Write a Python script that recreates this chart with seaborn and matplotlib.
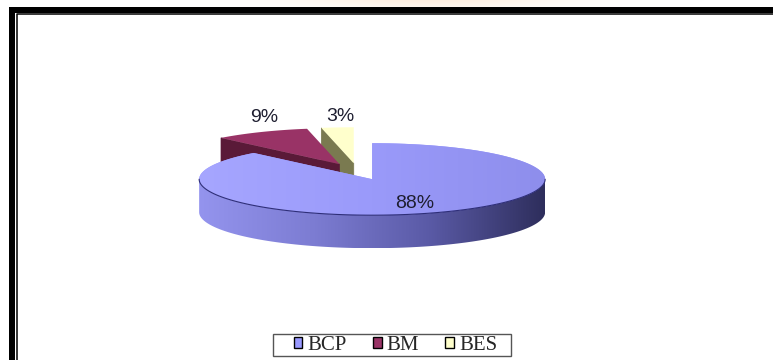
import numpy as np
import matplotlib
matplotlib.use("Agg")
import matplotlib.pyplot as plt
from matplotlib.patches import Polygon, Rectangle, Patch
from matplotlib.colors import LinearSegmentedColormap
import seaborn as sns

# ---- data -------------------------------------------------------------
categories = ["BCP", "BM", "BES"]
shares = [88, 9, 3]
labels = ["88%", "9%", "3%"]
top_colors = ["#9999FF", "#993366", "#FFFFCC"]
face_colors = ["#5c5cb0", "#5a1a38", "#7a7a50"]

sns.set_theme(style="white")
plt.rcParams["font.family"] = ["Liberation Sans", "DejaVu Sans"]

W, H = 773, 360
fig = plt.figure(figsize=(W / 100, H / 100), dpi=100)
fig.patch.set_facecolor("white")
ax = fig.add_axes([0, 0, 1, 1])
ax.set_xlim(0, W)
ax.set_ylim(H, 0)
ax.axis("off")

# ---- 3-D pie geometry (pixel units, y grows downward) ------------------
CX, CY = 357.5, 171.5      # centre of the un-exploded pie
RX, RY = 173.0, 36.0       # radii of the tilted top ellipse
DEPTH = 33.0               # thickness of the disc
EXPLODE = 0.23             # fraction of radius each slice is pulled out


def rim(cx, cy, t):
    """Point on the top ellipse; t in degrees clockwise from 12 o'clock."""
    r = np.radians(t)
    return cx + RX * np.sin(r), cy - RY * np.cos(r)


def arc(cx, cy, t1, t2, n=120):
    ts = np.linspace(t1, t2, n)
    xs, ys = rim(cx, cy, ts)
    return np.column_stack([xs, ys])


fracs = np.array(shares, dtype=float) / sum(shares)
bounds = np.concatenate([[0.0], np.cumsum(fracs) * 360.0])

slices = []
for i in range(len(shares)):
    t1, t2 = bounds[i], bounds[i + 1]
    mid = np.radians((t1 + t2) / 2)
    cx = CX + EXPLODE * RX * np.sin(mid)
    cy = CY - EXPLODE * RY * np.cos(mid)
    slices.append((i, t1, t2, cx, cy))

side_cmap = LinearSegmentedColormap.from_list(
    "side", ["#9494ee", "#7c7cd2", "#5a5aa6", "#2e2e5c"])
top_cmap = LinearSegmentedColormap.from_list(
    "top", ["#a6a6ff", "#9a9afa", "#8e8eec"])
grad = np.linspace(0, 1, 256).reshape(1, -1)

z = 2
for i, t1, t2, cx, cy in sorted(slices, key=lambda s: s[4]):
    # radial cut faces that turn toward the viewer
    for t, visible in ((t1, np.sin(np.radians(t1)) < -1e-6),
                       (t2, np.sin(np.radians(t2)) > 1e-6)):
        if visible:
            px, py = rim(cx, cy, t)
            quad = [(cx, cy), (px, py), (px, py + DEPTH), (cx, cy + DEPTH)]
            ax.add_patch(Polygon(quad, closed=True, facecolor=face_colors[i],
                                 edgecolor=face_colors[i], lw=0.5, zorder=z))
            z += 1

    # front wall of the rim
    lo, hi = max(t1, 90.0), min(t2, 270.0)
    if hi > lo:
        top_edge = arc(cx, cy, lo, hi)
        wall = np.vstack([top_edge, (top_edge + [0, DEPTH])[::-1]])
        wall_patch = Polygon(wall, closed=True, facecolor="none",
                             edgecolor="none", zorder=z)
        ax.add_patch(wall_patch)
        if i == 0:
            im = ax.imshow(grad, cmap=side_cmap, aspect="auto",
                           extent=(wall[:, 0].min(), wall[:, 0].max(),
                                   wall[:, 1].max(), wall[:, 1].min()),
                           zorder=z, interpolation="bilinear")
            im.set_clip_path(wall_patch)
        else:
            wall_patch.set_facecolor(face_colors[i])
        z += 1

    # top face
    top = np.vstack([[cx, cy], arc(cx, cy, t1, t2), [cx, cy]])
    top_patch = Polygon(top, closed=True, facecolor=top_colors[i],
                        edgecolor="none", zorder=z)
    ax.add_patch(top_patch)
    if i == 0:
        im = ax.imshow(grad, cmap=top_cmap, aspect="auto",
                       extent=(top[:, 0].min(), top[:, 0].max(),
                               top[:, 1].max(), top[:, 1].min()),
                       zorder=z, interpolation="bilinear")
        im.set_clip_path(top_patch)
    z += 1
    if hi > lo:
        ax.plot(top_edge[:, 0], top_edge[:, 1], color="#2e2e78", lw=0.8,
                zorder=z)
        z += 1

# ---- percentage labels ------------------------------------------------
for i, t1, t2, cx, cy in slices:
    mid = (t1 + t2) / 2
    if fracs[i] > 0.5:
        r = np.radians(mid)
        lx = cx + 0.67 * RX * np.sin(r)
        ly = cy - 0.67 * RY * np.cos(r) + 2
    else:
        # small slices: label sits just above the back of the slice
        lx, _ = rim(cx, cy, mid)
        lx += 3
        ly = cy - RY - 11
    ax.text(lx, ly, labels[i], ha="center", va="center", fontsize=14,
            color="#1e1e30", zorder=50)

# ---- faint warm haze above the frame -----------------------------------
xs = np.linspace(0, W, 400)
ys = np.linspace(0, 14, 20)
gx, gy = np.meshgrid(xs, ys)
alpha = np.exp(-((gx - 430) / 130) ** 2) * np.clip(1 - gy / 14, 0, 1) * 0.35
haze = np.zeros(gx.shape + (4,))
haze[..., 0], haze[..., 1], haze[..., 2] = 0.99, 0.82, 0.66
haze[..., 3] = alpha
ax.imshow(haze, extent=(0, W, 14, 0), aspect="auto", zorder=0.5)

# ---- picture frame ----------------------------------------------------
ax.add_patch(Rectangle((9, 7), W - 9, 5.5, facecolor="black",
                       edgecolor="none", zorder=60))
ax.add_patch(Rectangle((9, 7), 6, H - 7, facecolor="black",
                       edgecolor="none", zorder=60))
ax.plot([16.5, 16.5, W], [H, 13.8, 13.8], color="black", lw=1.1, zorder=60)

# ---- legend -----------------------------------------------------------
handles = [Patch(facecolor=c, edgecolor="black", linewidth=1.0)
           for c in top_colors]
leg = fig.legend(handles, categories, loc="center",
                 bbox_to_anchor=(395.5 / W, 1 - 345.5 / H), ncol=3,
                 frameon=False,
                 prop={"family": "Liberation Serif", "size": 15},
                 handlelength=0.42, handleheight=0.42, handletextpad=0.25,
                 columnspacing=1.25, borderpad=0.0, borderaxespad=0)
ax.add_patch(Rectangle((273, 334), 238, 22, facecolor="none",
                       edgecolor="#555555", lw=1.0, zorder=40))

fig.savefig("out.png", dpi=100, facecolor="white")
